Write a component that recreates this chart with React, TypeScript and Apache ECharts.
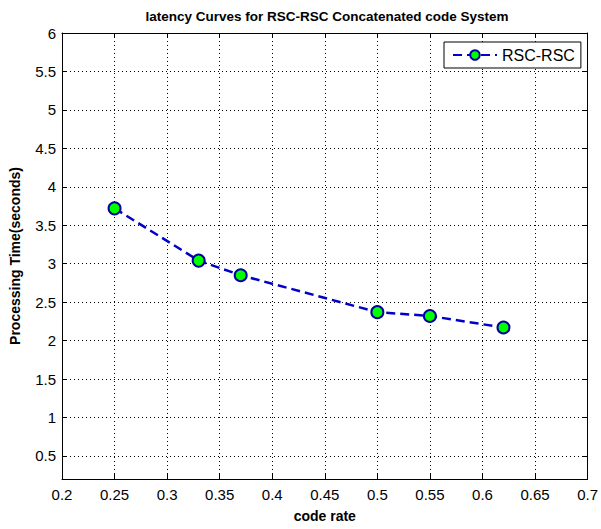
import React, { useEffect, useRef } from "react";
import * as echarts from "echarts";

const codeRates = [0.25, 0.33, 0.37, 0.5, 0.55, 0.62];
const processingTimes = [3.72, 3.04, 2.85, 2.37, 2.32, 2.17];
const seriesName = "RSC-RSC";
const titleText = "latency Curves for RSC-RSC Concatenated code System";

const FONT = "Liberation Sans Narrow, Liberation Sans, Arial, sans-serif";

export default function App() {
  const ref = useRef<HTMLDivElement>(null);
  useEffect(() => {
    const chart = echarts.init(ref.current!, undefined, { renderer: "svg" });
    const data = codeRates.map((x, i) => [x, processingTimes[i]]);
    const gridLine = { show: true, lineStyle: { color: "#000", type: [1, 3] as any, width: 1 } };
    const yCommon = {
      type: "value",
      min: 0.2,
      max: 6,
      splitNumber: 11,
    };
    chart.setOption({
      animation: false,
      backgroundColor: "#fff",
      title: {
        text: titleText,
        left: 322,
        textAlign: "center",
        top: 4,
        textStyle: { fontFamily: FONT, fontSize: 13.5, fontWeight: "bold", color: "#000" },
      },
      grid: { left: 62, top: 33, right: 8, bottom: 50 },
      legend: {
        data: [seriesName],
        left: 444,
        top: 42,
        padding: [5, 6, 5, 8],
        itemWidth: 44,
        itemHeight: 12,
        itemGap: 4,
        backgroundColor: "#fff",
        borderColor: "#000",
        borderWidth: 1,
        borderRadius: 0,
        textStyle: { fontFamily: FONT, fontSize: 16, color: "#000" },
      },
      xAxis: [
        {
          type: "value",
          min: 0.2,
          max: 0.7,
          interval: 0.05,
          name: "code rate",
          nameLocation: "middle",
          nameGap: 30,
          nameTextStyle: { fontFamily: FONT, fontSize: 14, fontWeight: "bold", color: "#000" },
          axisLine: { show: true, onZero: false, lineStyle: { color: "#000", width: 1 } },
          axisTick: { show: true, inside: true, length: 5, lineStyle: { color: "#000" } },
          axisLabel: {
            fontFamily: FONT,
            fontSize: 15,
            color: "#000",
            margin: 8,
            formatter: (v: number) => String(Math.round(v * 100) / 100),
          },
          splitLine: gridLine,
        },
        {
          type: "value",
          position: "top",
          min: 0.2,
          max: 0.7,
          interval: 0.05,
          axisLine: { show: true, onZero: false, lineStyle: { color: "#000", width: 1 } },
          axisTick: { show: true, inside: true, length: 5, lineStyle: { color: "#000" } },
          axisLabel: { show: false },
          splitLine: { show: false },
        },
      ],
      yAxis: [
        {
          ...yCommon,
          name: "Processing Time(seconds)",
          nameLocation: "middle",
          nameGap: 40,
          nameTextStyle: { fontFamily: FONT, fontSize: 14, fontWeight: "bold", color: "#000" },
          axisLine: { show: true, onZero: false, lineStyle: { color: "#000", width: 1 } },
          axisTick: { show: true, inside: true, length: 5, lineStyle: { color: "#000" } },
          axisLabel: {
            fontFamily: FONT,
            fontSize: 15,
            color: "#000",
            margin: 6,
            showMinLabel: false,
            formatter: (v: number) => String(Math.round(v * 10) / 10),
          },
          splitLine: gridLine,
        },
        {
          ...yCommon,
          position: "right",
          axisLine: { show: true, onZero: false, lineStyle: { color: "#000", width: 1 } },
          axisTick: { show: true, inside: true, length: 5, lineStyle: { color: "#000" } },
          axisLabel: { show: false },
          splitLine: { show: false },
        },
      ],
      series: [
        {
          name: seriesName,
          type: "line",
          data,
          xAxisIndex: 0,
          yAxisIndex: 0,
          symbol: "circle",
          symbolSize: 12,
          lineStyle: { color: "#0000C8", width: 2.5, type: [9, 5] as any },
          itemStyle: { color: "#00FF00", borderColor: "#0000A0", borderWidth: 2 },
          z: 5,
        },
      ],
    });
    return () => chart.dispose();
  }, []);
  return <div ref={ref} style={{ width: 601, height: 529, position: "absolute", left: 0, top: 0 }} />;
}
